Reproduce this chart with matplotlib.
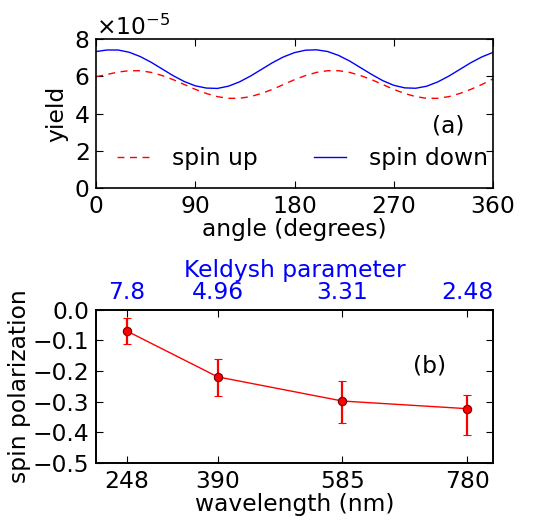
import numpy as np
import matplotlib
matplotlib.use('Agg')
import matplotlib.pyplot as plt

# datos panel (a): rendimiento vs angulo (x 1e-5)
angle = np.arange(0, 361, 10)
spin_down = [7.33, 7.41, 7.41, 7.29, 7.06, 6.75, 6.39, 6.03, 5.72, 5.49,
             5.37, 5.35, 5.47, 5.70, 6.01, 6.37, 6.73, 7.04, 7.27, 7.40,
             7.42, 7.33, 7.12, 6.82, 6.46, 6.10, 5.77, 5.52, 5.38, 5.36,
             5.47, 5.70, 6.01, 6.37, 6.73, 7.04, 7.28]
spin_up = [5.98, 6.10, 6.23, 6.30, 6.30, 6.21, 6.04, 5.82, 5.56, 5.30,
           5.08, 4.91, 4.82, 4.82, 4.91, 5.08, 5.30, 5.56, 5.82, 6.04,
           6.21, 6.30, 6.30, 6.21, 6.04, 5.82, 5.56, 5.30, 5.08, 4.91,
           4.82, 4.82, 4.91, 5.08, 5.30, 5.56, 5.86]

# datos panel (b): polarizacion vs longitud de onda
wavelength = [248, 390, 585, 780]
keldysh = ['7.8', '4.96', '3.31', '2.48']
polarization = [-0.069, -0.219, -0.298, -0.323]
err_low = [0.043, 0.061, 0.073, 0.085]
err_high = [0.042, 0.059, 0.065, 0.045]

plt.rcParams['font.family'] = 'DejaVu Sans'
plt.rcParams['font.size'] = 16.8
plt.rcParams['xtick.direction'] = 'in'
plt.rcParams['ytick.direction'] = 'in'
plt.rcParams['xtick.top'] = True
plt.rcParams['ytick.right'] = True
plt.rcParams['xtick.major.size'] = 5
plt.rcParams['ytick.major.size'] = 5
plt.rcParams['xtick.major.pad'] = 5
plt.rcParams['ytick.major.pad'] = 5
plt.rcParams['axes.linewidth'] = 1.2
plt.rcParams['axes.formatter.use_mathtext'] = True

fig = plt.figure(figsize=(5.34, 5.2), dpi=100)

# panel (a)
ax1 = fig.add_axes([0.180, 0.638, 0.743, 0.287])
yscale = 1e-5
ax1.plot(angle, np.array(spin_up) * yscale, 'r--', lw=1, dashes=(5, 4), label='spin up')
ax1.plot(angle, np.array(spin_down) * yscale, 'b-', lw=1, label='spin down')
ax1.set_xlim(0, 360)
ax1.set_ylim(0, 8e-5)
ax1.set_xticks([0, 90, 180, 270, 360])
ax1.set_yticks(np.arange(0, 9e-5, 2e-5))
ax1.set_xlabel('angle (degrees)', labelpad=0)
ax1.set_ylabel('yield', labelpad=4)
ax1.ticklabel_format(axis='y', style='sci', scilimits=(0, 0), useMathText=True)
ax1.text(0.887, 0.416, '(a)', transform=ax1.transAxes, ha='center', va='center')
ax1.legend(loc='lower center', bbox_to_anchor=(0.52, -0.02), ncol=2,
           frameon=False, handlelength=1.4, columnspacing=2.4, handletextpad=0.95)

# panel (b)
ax2 = fig.add_axes([0.180, 0.110, 0.743, 0.294])
ax2.errorbar(wavelength, polarization, yerr=[err_low, err_high], fmt='o-',
             color='r', ecolor='r', mec='#700000', mew=0.8, ms=6, lw=1,
             elinewidth=1.6, capsize=3, capthick=1.6)
ax2.set_xlim(200, 820)
ax2.set_ylim(-0.5, 0.0)
ax2.set_xticks(wavelength)
ax2.set_yticks(np.arange(-0.5, 0.01, 0.1))
ax2.set_yticklabels(['\u22120.5', '\u22120.4', '\u22120.3', '\u22120.2', '\u22120.1', '0.0'])
ax2.set_xlabel('wavelength (nm)', labelpad=0)
ax2.set_ylabel('spin polarization', labelpad=1)
ax2.text(0.841, 0.634, '(b)', transform=ax2.transAxes, ha='center', va='center')

ax3 = ax2.twiny()
ax3.set_xlim(ax2.get_xlim())
ax3.set_xticks(wavelength)
ax3.set_xticklabels(keldysh, color='b')
ax3.set_xlabel('Keldysh parameter', color='b', labelpad=3)
ax3.tick_params(axis='x', direction='in', pad=4)

fig.savefig('out.png', dpi=100)
